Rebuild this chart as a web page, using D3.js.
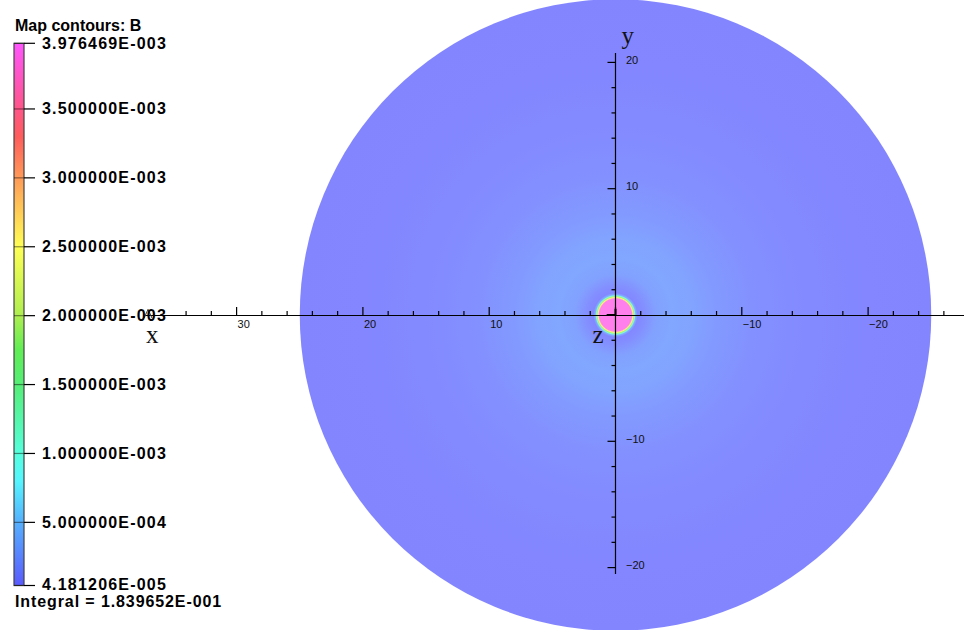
<!DOCTYPE html>
<html><head><meta charset="utf-8">
<script src="https://cdn.jsdelivr.net/npm/d3@7"></script>
<style>body{margin:0;background:#fff;overflow:hidden}</style>
</head><body>
<svg id="c" width="964" height="630"></svg>
<script>
// ---------- data ----------
const titleText = "Map contours: B";
const integralText = "Integral = 1.839652E-001";
const cbMin = 4.181206e-5, cbMax = 3.976469e-3;
const cbTickValues = [3.976469e-3, 3.5e-3, 3.0e-3, 2.5e-3, 2.0e-3, 1.5e-3, 1.0e-3, 5.0e-4, 4.181206e-5];
const cbTickLabels = ["3.976469E-003","3.500000E-003","3.000000E-003","2.500000E-003","2.000000E-003","1.500000E-003","1.000000E-003","5.000000E-004","4.181206E-005"];
const colorStopValues = [4.181206e-5, 5.0e-4, 8.0e-4, 1.0e-3, 1.5e-3, 1.75e-3, 2.0e-3, 2.5e-3, 3.0e-3, 3.3e-3, 3.5e-3, 3.976469e-3];
const colorStopColors = ["#5a5aff","#55b0ff","#55f5ff","#55ffdd","#55ee77","#60ee55","#aeee50","#ffff55","#ff9a58","#ff5c5c","#ff5588","#ff55ff"];
const xLabelTicks = [30, 20, 10, -10, -20];
const yLabelTicks = [20, 10, -10, -20];
const xTickRange = [-26, 34];
const yTickRange = [-20, 20];
const tickStep = 2;
const xAxisExtent = [37.25, -28];
const yAxisExtent = [20.75, -20.5];
const domainRadius = 25;
// radial profile of |B| (radius in model units)
const fieldRadius = [0, 1.28, 1.38, 1.45, 1.52, 1.6, 1.75, 2.3, 3.2, 4.5, 6, 8, 11, 15, 20, 25];
const fieldB      = [3.88e-3, 3.88e-3, 2.6e-3, 1.9e-3, 1.1e-3, 3.5e-4, 7e-5, 1.2e-4, 2.5e-4, 3.0e-4, 2.7e-4, 2.0e-4, 1.35e-4, 9e-5, 6e-5, 5e-5];

// ---------- scales ----------
const svg = d3.select("#c");
const x = d3.scaleLinear().domain([0, -10]).range([615.5, 741.8]);
const y = d3.scaleLinear().domain([0, 10]).range([315, 188.7]);
const cbY = d3.scaleLinear().domain([cbMin, cbMax]).range([585.5, 43.3]);
const color = d3.scaleLinear().domain(colorStopValues).range(colorStopColors).interpolate(d3.interpolateRgb).clamp(true);
const fieldColor = b => d3.interpolateRgb(color(b), "#ffffff")(0.25);

svg.append("rect").attr("width", 964).attr("height", 630).attr("fill", "#fff");
const defs = svg.append("defs");

// ---------- field map ----------
const rg = defs.append("radialGradient").attr("id", "fieldGrad")
  .attr("cx", "50%").attr("cy", "50%").attr("r", "50%");
rg.selectAll("stop").data(fieldRadius.map((r, i) => ({r, b: fieldB[i]})))
  .join("stop")
  .attr("offset", d => d.r / domainRadius)
  .attr("stop-color", d => fieldColor(d.b));

svg.append("circle")
  .attr("cx", x(0)).attr("cy", y(0))
  .attr("r", x(0) - x(domainRadius))
  .attr("fill", "url(#fieldGrad)");

// ---------- axes ----------
const ax = svg.append("g").attr("stroke", "#000").attr("fill", "none");
ax.append("line").attr("x1", x(xAxisExtent[0])).attr("x2", x(xAxisExtent[1]))
  .attr("y1", y(0) + 0.5).attr("y2", y(0) + 0.5).attr("stroke-width", 1.2);
ax.append("line").attr("x1", x(0)).attr("x2", x(0))
  .attr("y1", y(yAxisExtent[0])).attr("y2", y(yAxisExtent[1])).attr("stroke-width", 1.2);

const xt = d3.range(xTickRange[0], xTickRange[1] + 1, tickStep);
ax.selectAll(".xt").data(xt).join("line")
  .attr("x1", d => x(d)).attr("x2", d => x(d))
  .attr("y1", y(0)).attr("y2", d => y(0) - (d % 10 === 0 ? 8 : 4))
  .attr("stroke-width", 1.2);
const yt = d3.range(yTickRange[0], yTickRange[1] + 1, tickStep);
ax.selectAll(".yt").data(yt).join("line")
  .attr("y1", d => y(d)).attr("y2", d => y(d))
  .attr("x1", x(0)).attr("x2", d => x(0) - (d % 10 === 0 ? 8 : 4))
  .attr("stroke-width", 1.2);

const fmt = d3.format("d");
svg.selectAll(".xl").data(xLabelTicks).join("text")
  .attr("x", d => x(d) + 1).attr("y", y(0) + 12.5)
  .attr("font-family", "Liberation Sans, Arial, sans-serif").attr("font-size", 11)
  .attr("fill", "#111").text(d => fmt(d));
svg.selectAll(".yl").data(yLabelTicks).join("text")
  .attr("x", x(0) + 10.5).attr("y", d => y(d) + 1.5)
  .attr("font-family", "Liberation Sans, Arial, sans-serif").attr("font-size", 11)
  .attr("fill", "#111").text(d => fmt(d));

// z axis stub & x-axis arrow
svg.append("path")
  .attr("d", `M${x(0.7)},${y(0)} H${x(0)} V${y(0.5)}`)
  .attr("stroke", "#000").attr("stroke-width", 2).attr("fill", "none");
svg.append("path")
  .attr("d", `M${x(xAxisExtent[0]) - 1},${y(-0.25)} L${x(xAxisExtent[0]) + 3},${y(0.45)} L${x(xAxisExtent[0]) + 7},${y(-0.25)}`)
  .attr("stroke", "#444").attr("stroke-width", 1).attr("fill", "none");

const axisNames = [
  {t: "x", px: x(xAxisExtent[0]) + 1, py: y(0) + 28},
  {t: "y", px: x(0) + 6, py: y(yAxisExtent[0]) - 9},
  {t: "z", px: x(0) - 23, py: y(0) + 28}
];
svg.selectAll(".an").data(axisNames).join("text")
  .attr("x", d => d.px).attr("y", d => d.py)
  .attr("font-family", "Liberation Serif, Times New Roman, serif").attr("font-size", 25)
  .attr("fill", "#111").text(d => d.t);

// ---------- colour bar ----------
const cbX = 14, cbW = 10;
const cg = defs.append("linearGradient").attr("id", "cbGrad")
  .attr("x1", 0).attr("y1", 1).attr("x2", 0).attr("y2", 0);
cg.selectAll("stop").data(colorStopValues).join("stop")
  .attr("offset", d => (d - cbMin) / (cbMax - cbMin))
  .attr("stop-color", (d, i) => colorStopColors[i]);
svg.append("rect").attr("x", cbX).attr("y", cbY(cbMax))
  .attr("width", cbW).attr("height", cbY(cbMin) - cbY(cbMax))
  .attr("fill", "url(#cbGrad)").attr("stroke", "#444").attr("stroke-width", 1.2);

const cbt = svg.selectAll(".cbt").data(cbTickValues).join("g");
cbt.append("line").attr("x1", cbX).attr("x2", cbX + cbW)
  .attr("y1", d => cbY(d)).attr("y2", d => cbY(d))
  .attr("stroke", "#000").attr("stroke-opacity", 0.45).attr("stroke-width", 1.2);
cbt.append("line").attr("x1", cbX + cbW).attr("x2", cbX + cbW + 11)
  .attr("y1", d => cbY(d)).attr("y2", d => cbY(d))
  .attr("stroke", "#000").attr("stroke-width", 1.2);
cbt.append("text").attr("x", 42).attr("y", (d, i) => cbY(d) + (i === cbTickValues.length - 1 ? 4.5 : 5.5))
  .attr("font-family", "Liberation Sans, Arial, sans-serif").attr("font-weight", "bold")
  .attr("font-size", 16).attr("letter-spacing", "1.2px").attr("fill", "#000")
  .text((d, i) => cbTickLabels[i]);

svg.append("text").attr("x", 15).attr("y", 31)
  .attr("font-family", "Liberation Sans, Arial, sans-serif").attr("font-weight", "bold")
  .attr("font-size", 16).attr("fill", "#000").text(titleText);
svg.append("text").attr("x", 15).attr("y", 607)
  .attr("font-family", "Liberation Sans, Arial, sans-serif").attr("font-weight", "bold")
  .attr("font-size", 16).attr("letter-spacing", "0.9px").attr("fill", "#000").text(integralText);
</script>
</body></html>
